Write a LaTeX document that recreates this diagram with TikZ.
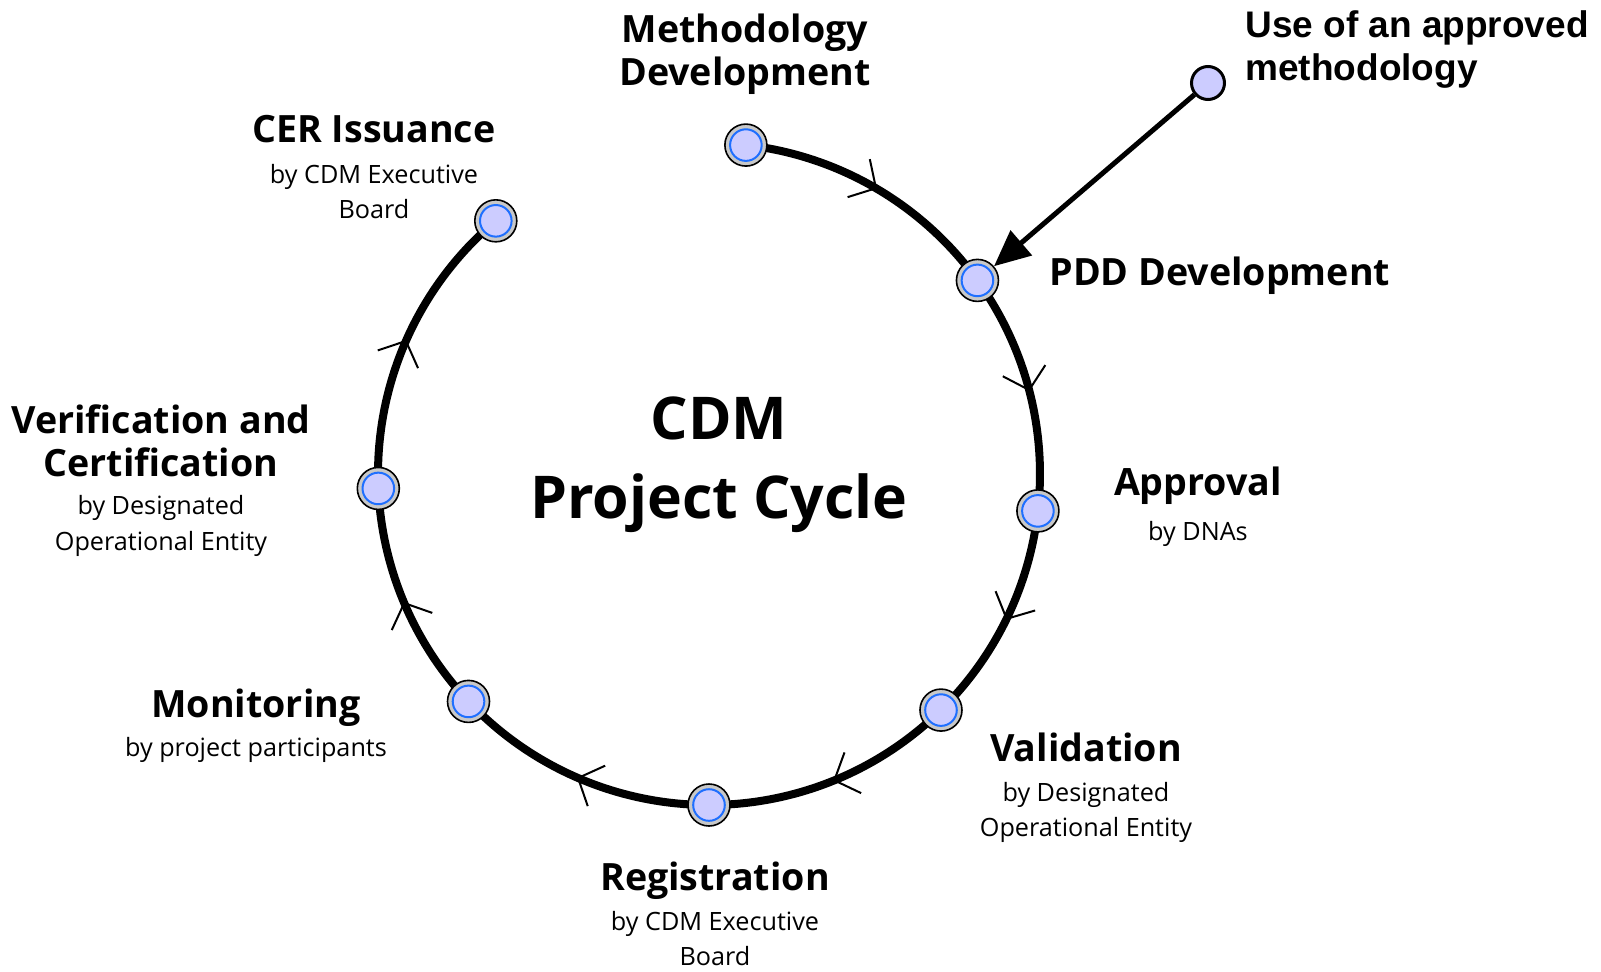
\documentclass[tikz,border=0pt]{standalone}
\usepackage{fontspec}
\setmainfont{Open Sans}
\newfontfamily\arialfont{Liberation Sans}
\usetikzlibrary{arrows.meta,decorations.markings,backgrounds}
\definecolor{lav}{HTML}{CCCCFF}
\definecolor{ringblue}{HTML}{1F6FFF}
\definecolor{ringgray}{HTML}{C8C8C8}
\begin{document}
\begin{tikzpicture}[x=0.5pt,y=0.5pt,
  stage/.style={circle, draw=black, line width=0.8pt, fill=ringgray, minimum size=21pt, inner sep=0pt,
    path picture={\draw[ringblue, line width=1pt, fill=lav] (path picture bounding box.center) circle[radius=7.9pt];}},
  ring/.style={line width=4pt, postaction={decorate},
    decoration={markings, mark=at position 0.5 with {\draw[line width=1pt] (-10pt,11pt) -- (0pt,0pt) -- (-10pt,-11pt);}}},
  head/.style={font=\fontsize{18.8}{21.5}\selectfont\bfseries, align=center, inner sep=0pt},
  sub/.style={font=\fontsize{12.6}{17.8}\selectfont, align=center, inner sep=0pt},
]
\useasboundingbox (-709,-497) rectangle (892,474);

% stage markers
\node[stage] (meth) at (83.6:331) {};
\node[stage] (pdd)  at (35.8:331) {};
\node[stage] (appr) at (-6.4:331) {};
\node[stage] (vali) at (-45.5:331) {};
\node[stage] (regi) at (-90:331) {};
\node[stage] (moni) at (223.4:331) {};
\node[stage] (veri) at (182.5:331) {};
\node[stage] (cer)  at (130.1:331) {};

% ring
\begin{scope}[on background layer]
\draw[ring] (meth.center) arc[start angle=83.6, end angle=35.8, radius=165.5pt];
\draw[ring] (pdd.center) arc[start angle=35.8, end angle=-6.4, radius=165.5pt];
\draw[ring] (appr.center) arc[start angle=-6.4, end angle=-45.5, radius=165.5pt];
\draw[ring] (vali.center) arc[start angle=-45.5, end angle=-90, radius=165.5pt];
\draw[ring] (regi.center) arc[start angle=270, end angle=223.4, radius=165.5pt];
\draw[ring] (moni.center) arc[start angle=223.4, end angle=182.5, radius=165.5pt];
\draw[ring] (veri.center) arc[start angle=182.5, end angle=130.1, radius=165.5pt];
\end{scope}

% approved methodology
\node[circle, draw=black, line width=1.5pt, fill=lav, minimum size=16.5pt, inner sep=0pt] (use) at (499,391) {};
\draw[line width=2.5pt, -{Triangle[length=18pt,width=16pt]}] (use) -- (pdd);
\node[font=\arialfont\bfseries\fontsize{18.5}{21.5}\selectfont, align=left, anchor=west, inner sep=0pt] (usetxt) at (536,424) {Use of an approved\\methodology};

% centre title
\node[font=\fontsize{29.5}{39.5}\selectfont\bfseries, align=center, inner sep=0pt] (title) at (10,9.5) {CDM\\Project Cycle};

% labels
\node[head] (meth-t) at (36,420) {Methodology\\Development};
\node[head, anchor=west] (pdd-t) at (340,198) {PDD Development};
\node[head] (appr-t) at (489,-12) {Approval};
\node[sub]  (appr-s) at (489,-60) {by DNAs};
\node[head] (vali-t) at (377,-273) {Validation};
\node[sub]  (vali-s) at (377,-338.5) {by Designated\\Operational Entity};
\node[head] (regi-t) at (6,-407) {Registration};
\node[sub]  (regi-s) at (6,-464.5) {by CDM Executive\\Board};
\node[head] (moni-t) at (-453,-234) {Monitoring};
\node[sub]  (moni-s) at (-453,-276) {by project participants};
\node[head] (veri-t) at (-548,33.5) {Verification and\\Certification};
\node[sub]  (veri-s) at (-548,-52) {by Designated\\Operational Entity};
\node[head] (cer-t) at (-335,345) {CER Issuance};
\node[sub]  (cer-s) at (-335,282.5) {by CDM Executive\\Board};
\end{tikzpicture}
\end{document}
